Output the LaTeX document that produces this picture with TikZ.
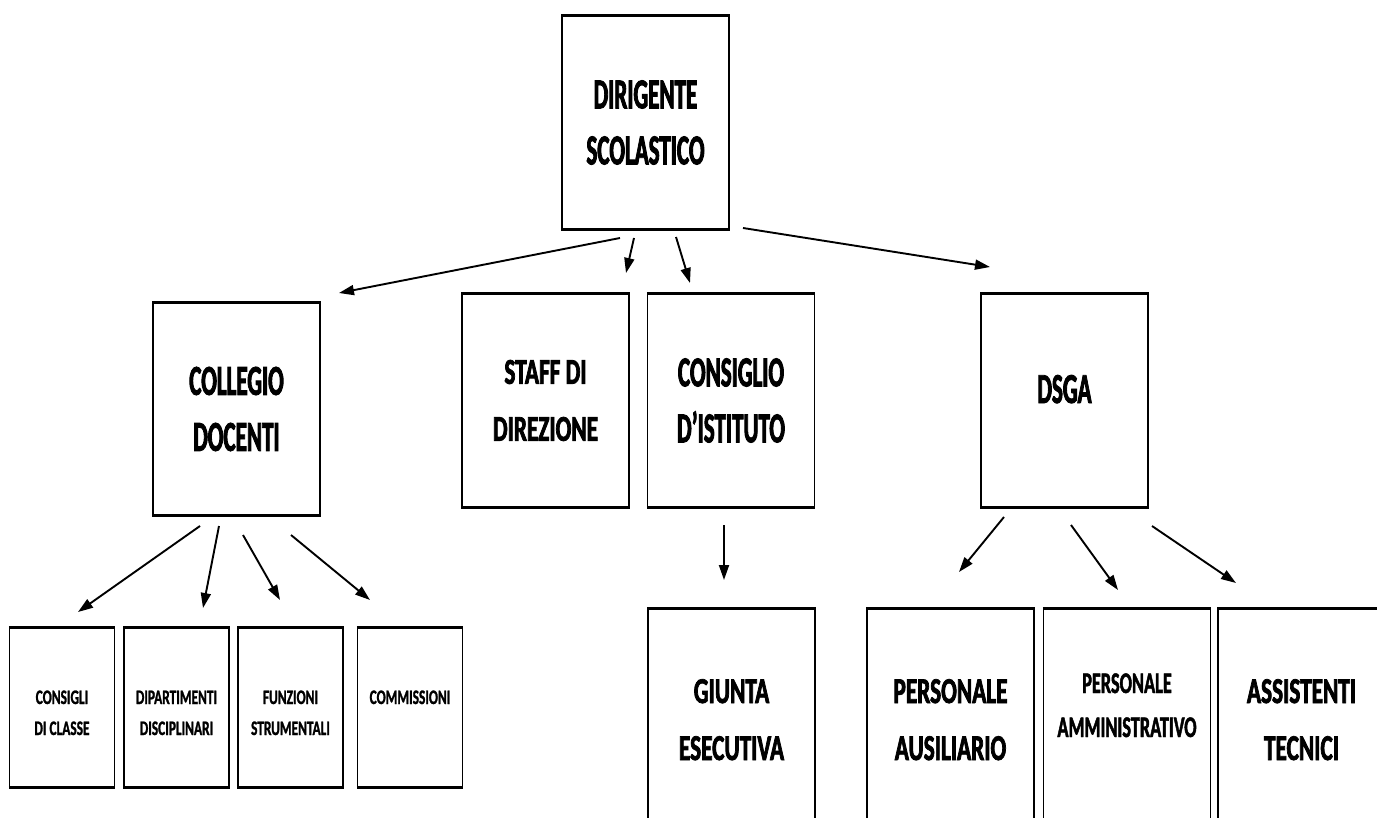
\documentclass[tikz,border=0pt]{standalone}
\usepackage{fontspec}
\usetikzlibrary{arrows.meta}
\newfontfamily\bigfont{Carlito}[FakeStretch=0.54,FakeBold=2]
\newfontfamily\midfont{Carlito}[FakeStretch=0.64,FakeBold=2]
\newfontfamily\ammfont{Carlito}[FakeStretch=0.61,FakeBold=1.5]
\newfontfamily\smallfont{Carlito}[FakeStretch=0.65,FakeBold=1.2]
\begin{document}
\begin{tikzpicture}[x=1pt,y=-1pt,
  orgbox/.style={draw=black, line width=1.5pt, inner sep=0pt, align=center,
    minimum width=167pt, minimum height=212pt},
  smallbox/.style={orgbox, minimum width=105pt, minimum height=159pt},
  bigtxt/.style={font={\bigfont\bfseries\fontsize{42.7}{56}\selectfont}},
  midtxt/.style={font={\midfont\bfseries\fontsize{36.4}{57}\selectfont}},
  ammtxt/.style={font={\ammfont\bfseries\fontsize{30}{44}\selectfont}},
  smalltxt/.style={font={\smallfont\bfseries\fontsize{20.6}{31}\selectfont}},
  conn/.style={-{Triangle[length=15pt,width=10pt]}, line width=1.9pt},
  edgeline/.style={line width=2.8pt}]
\useasboundingbox (0,0) rectangle (1377,818);
\fill[white] (0,0) rectangle (1377,818);

% boxes
\node[orgbox, bigtxt] (dir) at (645.5,122.5) {DIRIGENTE\\SCOLASTICO};
\node[orgbox, bigtxt] (col) at (236.5,409) {COLLEGIO\\DOCENTI};
\node[orgbox, midtxt] (staff) at (545.5,400.5) {STAFF DI\\DIREZIONE};
\node[orgbox, bigtxt] (cons) at (731,400.5) {CONSIGLIO\\D’ISTITUTO};
\node[orgbox, bigtxt, text height=5pt, text depth=0pt] (dsga) at (1064.5,400.5) {DSGA};

\node[smallbox, smalltxt, text height=55pt, text depth=0pt] (cdc) at (62,707.5) {CONSIGLI\\DI CLASSE};
\node[smallbox, smalltxt, text height=55pt, text depth=0pt] (dip) at (176.5,707.5) {DIPARTIMENTI\\DISCIPLINARI};
\node[smallbox, smalltxt, text height=55pt, text depth=0pt] (fun) at (290.5,707.5) {FUNZIONI\\STRUMENTALI};
\node[smallbox, smalltxt, text height=55pt, text depth=0pt] (com) at (410,707.5) {COMMISSIONI\\\strut};

\node[orgbox, midtxt, text height=89pt, text depth=0pt] (giu) at (731.5,715.5) {GIUNTA\\ESECUTIVA};
\node[orgbox, midtxt, text height=89pt, text depth=0pt] (paus) at (950.5,715.5) {PERSONALE\\AUSILIARIO};
\node[orgbox, ammtxt, text height=43pt, text depth=0pt] (pamm) at (1127,715.5) {PERSONALE\\AMMINISTRATIVO};
\node[orgbox, midtxt, text height=89pt, text depth=0pt] (ass) at (1301.5,715.5) {ASSISTENTI\\TECNICI};

\foreach \n in {dir,col,staff,cons,dsga,cdc,dip,fun,com,giu,paus,pamm,ass}
  \draw[edgeline] (\n.north west) -- (\n.north east) (\n.south west) -- (\n.south east);

% connector end points
\coordinate (d1) at (620,238);  \coordinate (e1) at (339,293);
\coordinate (d2) at (634,238);  \coordinate (e2) at (626,273);
\coordinate (d3) at (676,237);  \coordinate (e3) at (690,283);
\coordinate (d4) at (743,228);  \coordinate (e4) at (990,267);

\coordinate (c1) at (200,526);  \coordinate (f1) at (78,612);
\coordinate (c2) at (219,526);  \coordinate (f2) at (203,608);
\coordinate (c3) at (243,535);  \coordinate (f3) at (280,600);
\coordinate (c4) at (291,535);  \coordinate (f4) at (370,600);

\coordinate (g0) at (724,525);  \coordinate (g1) at (724,580);

\coordinate (s1) at (1004,517); \coordinate (t1) at (959,572);
\coordinate (s2) at (1071,525); \coordinate (t2) at (1118,590);
\coordinate (s3) at (1152,526); \coordinate (t3) at (1236,583);

\draw[conn] (d1) -- (e1);
\draw[conn] (d2) -- (e2);
\draw[conn] (d3) -- (e3);
\draw[conn] (d4) -- (e4);
\draw[conn] (c1) -- (f1);
\draw[conn] (c2) -- (f2);
\draw[conn] (c3) -- (f3);
\draw[conn] (c4) -- (f4);
\draw[conn] (g0) -- (g1);
\draw[conn] (s1) -- (t1);
\draw[conn] (s2) -- (t2);
\draw[conn] (s3) -- (t3);
\end{tikzpicture}
\end{document}
